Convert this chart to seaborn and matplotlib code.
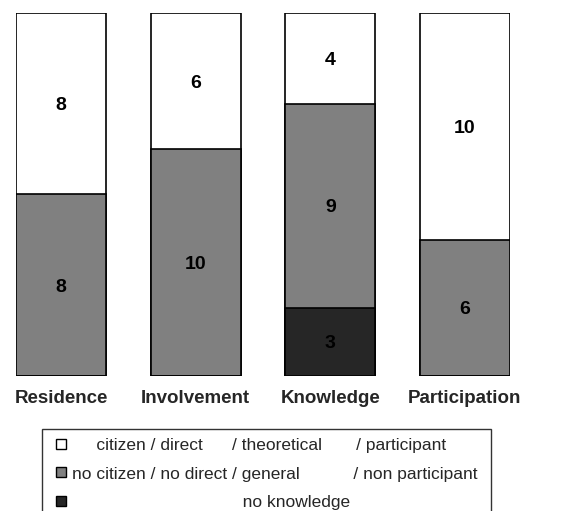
import matplotlib
matplotlib.use("Agg")
import matplotlib.pyplot as plt
import seaborn as sns
import numpy as np
import pandas as pd
from matplotlib.lines import Line2D

categories = ["Residence", "Involvement", "Knowledge", "Participation"]
white_vals = [8, 6, 4, 10]
gray_vals = [8, 10, 9, 6]
dark_vals = [0, 0, 3, 0]
legend_labels = [
    "     citizen / direct      / theoretical       / participant",
    "no citizen / no direct / general           / non participant ",
    "                                   no knowledge",
]
colors = ["#ffffff", "#808080", "#262626"]

sns.set_theme(style="white")
plt.rcParams["font.family"] = ["Liberation Sans", "DejaVu Sans"]

fig = plt.figure(figsize=(5.85, 5.11), dpi=100)
ax = fig.add_axes([16 / 585, 135 / 511, 494 / 585, 363 / 511])

df = pd.DataFrame({"cat": categories, "w": white_vals, "g": gray_vals, "d": dark_vals})
df["cum_d"] = df["d"]
df["cum_g"] = df["d"] + df["g"]
df["cum_w"] = df["cum_g"] + df["w"]

for col, c in [("cum_w", colors[0]), ("cum_g", colors[1]), ("cum_d", colors[2])]:
    sns.barplot(data=df, x="cat", y=col, color=c, edgecolor="black", linewidth=1.2,
                width=0.67, ax=ax, saturation=1)

for i in range(len(categories)):
    segs = [(dark_vals[i], 0), (gray_vals[i], dark_vals[i]), (white_vals[i], dark_vals[i] + gray_vals[i])]
    for v, b in segs:
        if v > 0:
            ax.text(i, b + v / 2, str(v), ha="center", va="center_baseline", fontsize=14,
                    fontweight="bold", color="black")

ax.set_xlim(-0.335, 3.335)
ax.set_ylim(0, 16)
ax.set_xlabel("")
ax.set_ylabel("")
ax.set_yticks([])
for s in ax.spines.values():
    s.set_visible(False)
ax.tick_params(axis="x", length=0, pad=10)
for lab in ax.get_xticklabels():
    lab.set_fontweight("bold")
    lab.set_fontsize(13.5)
ax.patch.set_alpha(0)

handles = [Line2D([], [], linestyle="", marker="s", markersize=6.5, markerfacecolor=c,
                  markeredgecolor="black", markeredgewidth=1) for c in colors]
leg = fig.legend(handles, legend_labels, loc="upper left",
                 bbox_to_anchor=(42 / 585, 1 - 429 / 511), bbox_transform=fig.transFigure,
                 fontsize=12.5, frameon=True, fancybox=False, edgecolor="black",
                 handlelength=1.2, handletextpad=0.05,
                 labelspacing=0.78, borderpad=0.5, borderaxespad=0)
leg.get_frame().set_linewidth(1)
leg.get_frame().set_facecolor("white")

fig.savefig("out.png", dpi=100)
